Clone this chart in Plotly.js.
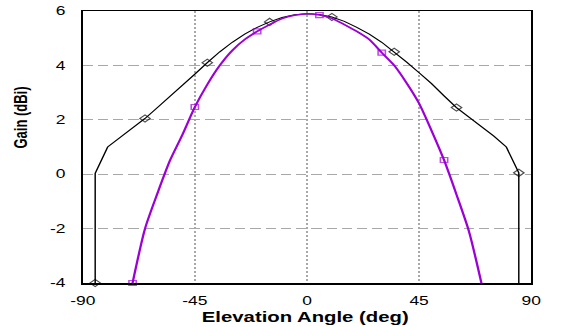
<!DOCTYPE html>
<html>
<head>
<meta charset="utf-8">
<script src="https://cdn.plot.ly/plotly-3.0.1.min.js"></script>
<style>
  html, body { margin: 0; padding: 0; background: #fff; overflow: hidden; }
  #wrap { width: 569px; height: 327px; overflow: hidden; }
  #chart { width: 392px; height: 327px; transform-origin: 0 0; transform: scaleX(1.4515); }
</style>
</head>
<body>
<div id="wrap"><div id="chart"></div></div>
<script>
// Black pattern (diamond markers)
const angleBlack = [-85, -85, -80, -75, -70, -65, -60, -55, -50, -45, -40, -35, -30, -25, -20, -15, -10, -5, 0,
                    5, 10, 15, 20, 25, 30, 35, 40, 45, 50, 55, 60, 65, 70, 75, 80, 85, 85];
const gainBlack  = [-4, 0.03, 1.0, 1.35, 1.7, 2.05, 2.45, 2.85, 3.25, 3.68, 4.1, 4.5, 4.85, 5.15, 5.4, 5.6, 5.76, 5.86, 5.9,
                    5.87, 5.78, 5.62, 5.4, 5.15, 4.85, 4.5, 4.12, 3.73, 3.33, 2.88, 2.45, 2.1, 1.75, 1.4, 1.0, 0.05, -4];

// Purple pattern (square markers)
const anglePurple = [-70, -65, -60, -55, -50, -45, -40, -35, -30, -25, -20, -15, -10, -5, 0,
                     5, 10, 15, 20, 25, 30, 35, 40, 45, 50, 55, 60, 65, 70];
const gainPurple  = [-4.0, -2.0, -0.7, 0.5, 1.45, 2.47, 3.3, 4.0, 4.55, 4.95, 5.25, 5.5, 5.72, 5.84, 5.9,
                     5.85, 5.73, 5.5, 5.25, 4.95, 4.47, 4.0, 3.35, 2.6, 1.6, 0.52, -0.75, -2.1, -4.0];

// Tick labels
const xTickVals = [-90, -45, 0, 45, 90];
const xTickText = ["-90", "-45", "0", "45", "90"];
const yTickVals = [-4, -2, 0, 2, 4, 6];
const yTickText = ["-4", "-2", "0", "2", "4", "6"];

const markerEvery = 5;
const blackSizes = angleBlack.map((_, i) => (i % markerEvery === 0 && i < angleBlack.length - 1) ? 5.5 : 0);
const purpleSizes = anglePurple.map((_, i) => (i % markerEvery === 0) ? 5 : 0);

const fontFam = "Liberation Sans, Arial, Helvetica, sans-serif";

const traces = [
  {
    x: angleBlack, y: gainBlack, type: 'scatter', mode: 'lines+markers',
    line: { color: '#000000', width: 1 },
    marker: { symbol: 'diamond-open', size: blackSizes, color: '#000000', line: { width: 1, color: '#000000' } },
    cliponaxis: false, hoverinfo: 'skip', showlegend: false
  },
  {
    x: anglePurple, y: gainPurple, type: 'scatter', mode: 'lines+markers',
    line: { color: '#9d00d6', width: 1.6, shape: 'spline', smoothing: 0.7 },
    marker: { symbol: 'square-open', size: purpleSizes, color: '#9d00d6', line: { width: 1.1, color: '#9d00d6' } },
    cliponaxis: false, hoverinfo: 'skip', showlegend: false
  }
];

const tickFont = { family: fontFam, size: 12, color: '#000000' };

const layout = {
  width: 392, height: 327,
  margin: { l: 57, r: 26, t: 11, b: 44, pad: 0 },
  paper_bgcolor: '#ffffff', plot_bgcolor: '#ffffff',
  showlegend: false,
  xaxis: {
    range: [-90, 90], tickmode: 'array', tickvals: xTickVals, ticktext: xTickText,
    showgrid: true, gridcolor: '#a8a8a8', gridwidth: 1, griddash: '2px,2px',
    zeroline: false, showline: true, mirror: true, linecolor: '#000000', linewidth: 1.5,
    ticks: '', ticklabelstandoff: 6, tickfont: tickFont, fixedrange: true
  },
  yaxis: {
    range: [-4, 6], tickmode: 'array', tickvals: yTickVals, ticktext: yTickText,
    showgrid: true, gridcolor: '#a8a8a8', gridwidth: 1, griddash: '7px,3.5px',
    zeroline: false, showline: true, mirror: true, linecolor: '#000000', linewidth: 1.5,
    ticks: '', ticklabelstandoff: 8, tickfont: tickFont, fixedrange: true
  },
  yaxis2: {
    range: [-4, 6], overlaying: 'y', side: 'right', tickmode: 'array', tickvals: yTickVals, ticktext: yTickText,
    showgrid: false, zeroline: false, showline: false,
    ticks: '', ticklabelstandoff: 8, tickfont: tickFont, fixedrange: true
  },
  annotations: [
    {
      text: '<b>Elevation Angle (deg)</b>', xref: 'paper', yref: 'paper',
      x: 0.498, y: -0.125, xanchor: 'center', yanchor: 'middle', showarrow: false,
      font: { family: fontFam, size: 14, color: '#000000' }
    },
    {
      text: '<b>Gain (dBi)</b>', xref: 'paper', yref: 'paper',
      x: -0.141, y: 0.61, xanchor: 'center', yanchor: 'middle', showarrow: false, textangle: -90,
      font: { family: fontFam, size: 13, color: '#000000' }
    }
  ]
};

Plotly.newPlot('chart', traces, layout, { staticPlot: true, displayModeBar: false });
</script>
</body>
</html>
